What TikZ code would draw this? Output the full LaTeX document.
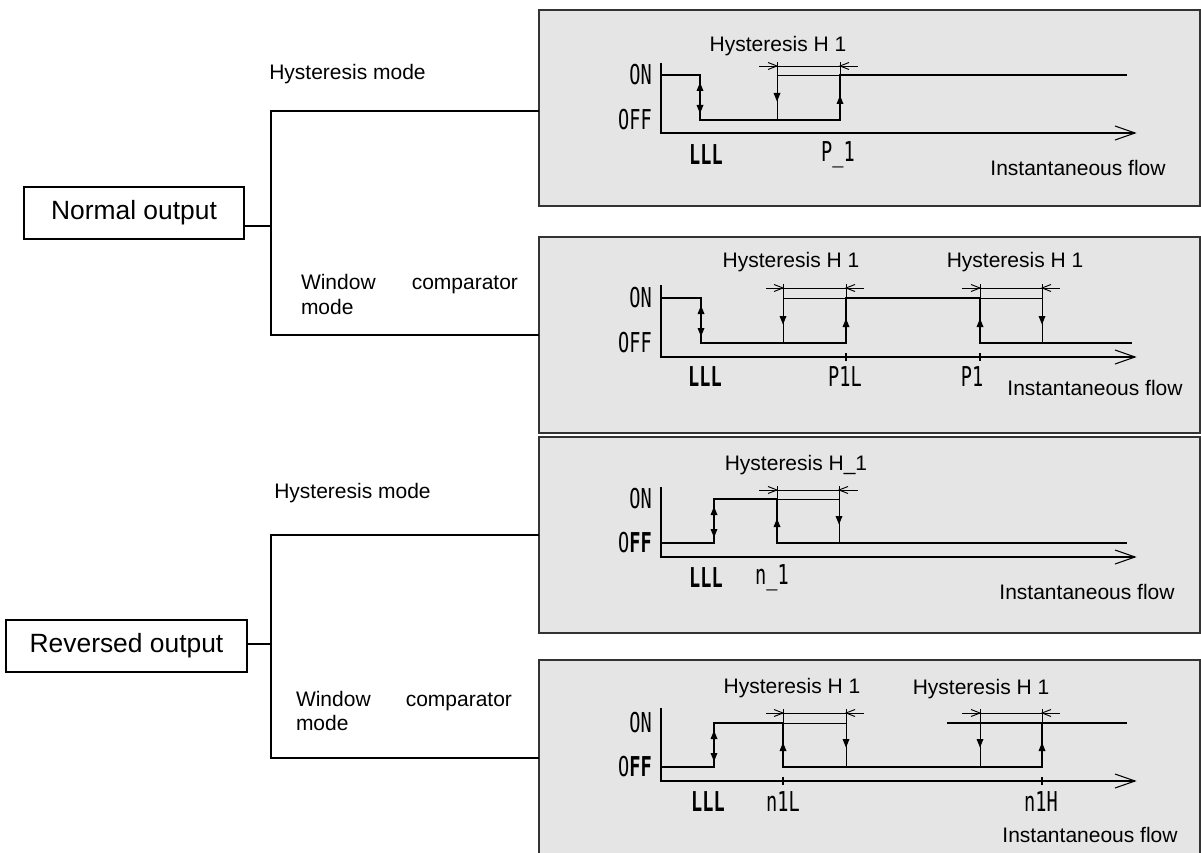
\documentclass[tikz,border=0pt]{standalone}
\usepackage{fontspec}
\setmainfont{Liberation Sans}
\newfontfamily\gfont[FakeStretch=0.68]{DejaVu Sans Mono}
\newcommand\hysdim[5]{%
  \draw[thinl] (#2,#1)--(#5,#1);
  \draw[thinl] (#3-9,#1-3.5)--(#3,#1)--(#3-9,#1+3.5);
  \draw[thinl] (#4+9,#1-3.5)--(#4,#1)--(#4+9,#1+3.5);}
\newcommand\flowaxis[2]{%
  \draw[axisl] (661,#1)--(661,#2)--(1135,#2);
  \draw[axisl] (1115,#2-7)--(1135,#2)--(1115,#2+7);}
\newcommand\axtick[2]{\draw[axisl] (#1,#2-4)--(#1,#2+4);}
\begin{document}
\begin{tikzpicture}[x=0.75pt,y=-0.75pt,
  panel/.style={draw=black!80,fill=black!10,line width=0.8pt},
  wire/.style={draw=black,line width=0.8pt},
  obox/.style={draw=black,line width=1.1pt,minimum height=39pt,inner sep=0pt,
    font=\fontsize{19.8}{23}\selectfont},
  lbl/.style={inner sep=0pt,font=\fontsize{15.75}{18.75}\selectfont},
  wlbl/.style={inner sep=0pt,align=left,font=\fontsize{15.75}{18.5}\selectfont},
  glbl/.style={inner sep=0pt,font=\fontsize{20.5}{22}\selectfont\gfont},
  gbold/.style={glbl,font=\fontsize{20.5}{22}\selectfont\gfont\bfseries},
  sig/.style={line width=1.9pt,line join=miter},
  thinl/.style={line width=0.7pt},
  axisl/.style={line width=0.8pt},
  upa/.pic={\fill (-3.5,4)--(0,-4.5)--(3.5,4)--cycle;},
  dna/.pic={\fill (-3.5,-4)--(0,4.5)--(3.5,-4)--cycle;},
]
\useasboundingbox (0,0) rectangle (1201,852);
\clip (0,0) rectangle (1201,852);

% ---------- panels ----------
\draw[panel] (539,10) rectangle (1200,206);
\draw[panel] (539,237) rectangle (1200,433);
\draw[panel] (539,437) rectangle (1200,633);
\draw[panel] (539,660) rectangle (1200,860);

% ---------- left tree: normal ----------
\node[obox,minimum width=165pt] (no) at (134,213) {Normal output};
\coordinate (j1) at (271,226);
\coordinate (t1a) at (271,111); \coordinate (t1b) at (539,111);
\coordinate (b1a) at (271,335); \coordinate (b1b) at (539,335);
\draw[wire] (no.east |- j1) -- (j1);
\draw[wire] (t1b) -- (t1a) -- (b1a) -- (b1b);
\node[lbl,anchor=west] (hm1) at (269,74) {Hysteresis mode};
\node[wlbl,text width=162.75pt] (wc1) at (409.5,294.5) {Window\hfill comparator\\mode};

% ---------- left tree: reversed ----------
\node[obox,minimum width=180.75pt] (ro) at (126.5,646) {Reversed output};
\coordinate (j2) at (271,644);
\coordinate (t2a) at (271,535); \coordinate (t2b) at (539,535);
\coordinate (b2a) at (271,758); \coordinate (b2b) at (539,758);
\draw[wire] (ro.east |- j2) -- (j2);
\draw[wire] (t2b) -- (t2a) -- (b2a) -- (b2b);
\node[lbl,anchor=west] (hm2) at (274,493) {Hysteresis mode};
\node[wlbl,text width=162pt] (wc2) at (404,711) {Window\hfill comparator\\mode};

% ---------- panel 1 ----------
\node[lbl] (p1h) at (778,46) {Hysteresis H 1};
\hysdim{66}{759}{777}{840}{858}
\draw[thinl] (777,62)--(777,120);
\draw[thinl] (840,62)--(840,75);
\draw[thinl] (777,75)--(840,75);
\flowaxis{63}{133}
\draw[sig] (661,75)--(700,75)--(700,120)--(840,120)--(840,75)--(1127,75);
\pic at (700,87) {upa}; \pic at (700,109) {dna};
\pic at (777,97) {dna}; \pic at (840,100) {upa};
\node[glbl,anchor=east] (p1on) at (652,75) {ON};
\node[glbl,anchor=east] (p1off) at (652,120) {OFF};
\node[gbold] (p1l) at (706,155) {LLL};
\node[glbl] (p1p) at (838,155) {P\_1};
\node[lbl] (p1f) at (1078,168) {Instantaneous flow};

% ---------- panel 2 ----------
\node[lbl] (p2h1) at (791,262) {Hysteresis H 1};
\node[lbl] (p2h2) at (1015,262) {Hysteresis H 1};
\hysdim{288}{766}{783}{846}{864}
\hysdim{288}{962}{980}{1042}{1060}
\draw[thinl] (783,284)--(783,343);
\draw[thinl] (846,284)--(846,298);
\draw[thinl] (783,298)--(846,298);
\draw[thinl] (980,284)--(980,298);
\draw[thinl] (1042,284)--(1042,343);
\draw[thinl] (980,298)--(1042,298);
\flowaxis{285}{357}
\axtick{846}{357} \axtick{980}{357}
\draw[sig] (661,298)--(701,298)--(701,343)--(846,343)--(846,298)--(980,298)--(980,343)--(1132,343);
\pic at (701,310) {upa}; \pic at (701,332) {dna};
\pic at (783,320) {dna}; \pic at (846,323) {upa};
\pic at (980,323) {upa}; \pic at (1042,320) {dna};
\node[glbl,anchor=east] (p2on) at (652,298) {ON};
\node[glbl,anchor=east] (p2off) at (652,343) {OFF};
\node[gbold] (p2l) at (705,377) {LLL};
\node[glbl] (p2a) at (845,377) {P1L};
\node[glbl] (p2b) at (972,377) {P1};
\node[lbl] (p2f) at (1095,388) {Instantaneous flow};

% ---------- panel 3 ----------
\node[lbl] (p3h) at (796,465) {Hysteresis H\_1};
\hysdim{490}{759}{777}{839}{858}
\draw[thinl] (777,486)--(777,499);
\draw[thinl] (839,486)--(839,543);
\draw[thinl] (777,499)--(839,499);
\flowaxis{487}{557}
\draw[sig] (661,543)--(714,543)--(714,499)--(777,499)--(777,543)--(1127,543);
\pic at (714,511) {upa}; \pic at (714,533) {dna};
\pic at (777,523) {upa}; \pic at (839,520) {dna};
\node[glbl,anchor=east] (p3on) at (652,499) {ON};
\node[glbl,anchor=east] (p3off) at (652,543) {O\textbf{FF}};
\node[gbold] (p3l) at (706,578) {LLL};
\node[glbl] (p3n) at (772,578) {n\_1};
\node[lbl] (p3f) at (1087,592) {Instantaneous flow};

% ---------- panel 4 ----------
\node[lbl] (p4h1) at (792,688) {Hysteresis H 1};
\node[lbl] (p4h2) at (981,689) {Hysteresis H 1};
\hysdim{713}{766}{783}{846}{864}
\hysdim{713}{962}{980}{1042}{1060}
\draw[thinl] (783,709)--(783,723);
\draw[thinl] (846,709)--(846,767);
\draw[thinl] (783,723)--(846,723);
\draw[thinl] (980,709)--(980,767);
\draw[thinl] (1042,709)--(1042,723);
\flowaxis{708}{781}
\axtick{783}{781} \axtick{1042}{781}
\draw[sig] (661,767)--(714,767)--(714,723)--(783,723)--(783,767)--(1042,767)--(1042,723);
\draw[sig] (947,723)--(1127,723);
\pic at (714,735) {upa}; \pic at (714,757) {dna};
\pic at (783,747) {upa}; \pic at (846,743) {dna};
\pic at (980,743) {dna}; \pic at (1042,747) {upa};
\node[glbl,anchor=east] (p4on) at (652,723) {ON};
\node[glbl,anchor=east] (p4off) at (652,767) {O\textbf{FF}};
\node[gbold] (p4l) at (708,802) {LLL};
\node[glbl] (p4a) at (783,802) {n1L};
\node[glbl] (p4b) at (1041,802) {n1H};
\node[lbl] (p4f) at (1090,835) {Instantaneous flow};
\end{tikzpicture}
\end{document}
